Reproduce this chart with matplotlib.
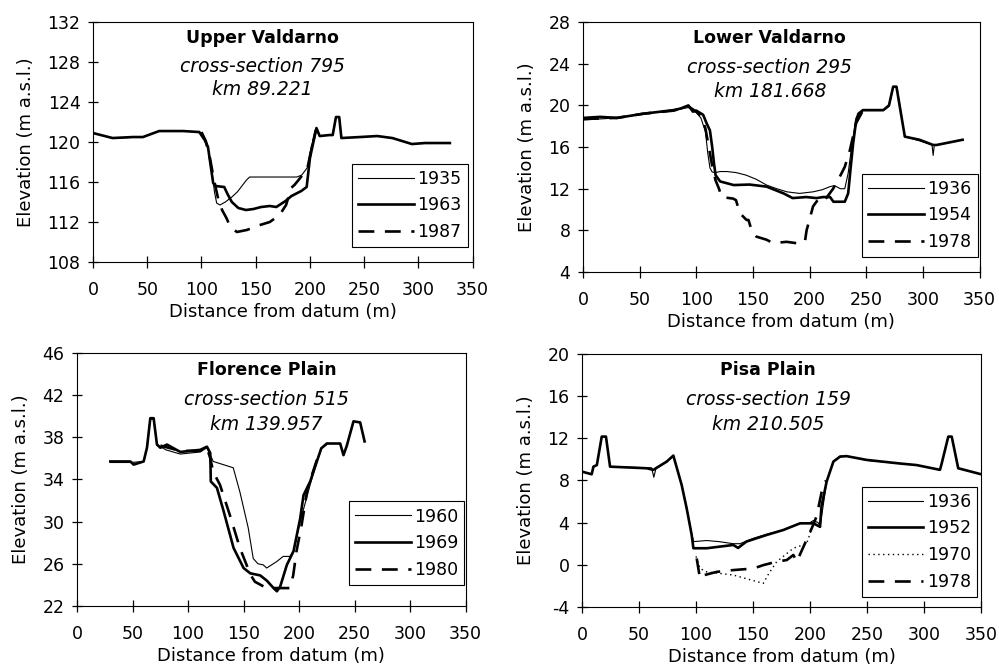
import numpy as np
import matplotlib
matplotlib.use("Agg")
import matplotlib.pyplot as plt

plt.rcParams['font.family'] = ['DejaVu Sans']
plt.rcParams['axes.unicode_minus'] = False

# Upper Valdarno, cross-section 795
uv_x_1963 = [0, 18, 37, 46, 61, 83, 98, 103, 106, 108, 110.8, 113, 121, 124, 128, 134, 141, 148, 155, 163, 169, 177.5,
             183, 192, 197, 200, 206, 209, 218, 221, 224, 227, 229, 246, 262, 276, 285, 294, 306, 329]
uv_y_1963 = [120.9, 120.4, 120.5, 120.5, 121.1, 121.1, 121.0, 120.2, 119.5, 118.0, 115.9, 115.6, 115.5, 114.8, 114.0,
             113.4, 113.2, 113.3, 113.5, 113.6, 113.5, 114.1, 114.6, 115.1, 115.5, 118.4, 121.4, 120.6, 120.7, 120.7,
             122.5, 122.5, 120.4, 120.5, 120.6, 120.4, 120.1, 119.8, 119.9, 119.9]
uv_x_1935 = [20, 46, 61, 83, 98, 103, 106, 109, 112, 114, 117, 122, 128, 133, 138, 141.5, 144.4, 160, 175, 188, 192.5,
             198, 201, 206, 209, 218, 221, 224, 227, 229]
uv_y_1935 = [120.4, 120.5, 121.1, 121.1, 121.0, 120.2, 119.5, 117.5, 115.0, 113.9, 113.7, 114.0, 114.5, 115.0, 115.7,
             116.2, 116.5, 116.5, 116.5, 116.5, 116.7, 117.5, 119.5, 121.3, 120.6, 120.7, 120.7, 122.5, 122.5, 120.4]
uv_x_1987 = [100, 104, 108, 111, 115, 119, 123, 126.6, 132.7, 141.8, 154, 163, 172, 178, 182.6, 185.7, 191, 197.7,
             200.8, 205.4]
uv_y_1987 = [121.0, 120.1, 118.3, 116.5, 114.5, 113.2, 112.4, 111.5, 111.0, 111.2, 111.7, 112.0, 112.7, 113.7, 115.4,
             115.7, 116.4, 117.4, 119.0, 121.2]

# Lower Valdarno, cross-section 295
lv_x_1954 = [0, 15, 30, 53, 80, 86, 93, 97, 100, 106, 109, 112, 114, 115.5, 117, 121, 133, 147, 162, 177, 185, 197, 206,
             212, 218, 221, 231, 234, 236, 238.4, 241, 243, 247, 265, 270, 273.7, 276.6, 284, 297, 309, 312, 335]
lv_y_1954 = [18.8, 18.9, 18.8, 19.2, 19.55, 19.7, 20.0, 19.4, 19.5, 19.1, 18.3, 17.6, 16.0, 14.5, 13.3, 12.7, 12.35,
             12.4, 12.2, 11.55, 11.1, 11.2, 11.1, 11.2, 11.2, 10.75, 10.75, 11.55, 13.8, 16.35, 18.5, 19.2, 19.55,
             19.55, 20.0, 21.8, 21.8, 17.0, 16.7, 16.2, 16.2, 16.7]
lv_x_1936 = [0, 30, 53, 80, 93, 100, 104, 108, 110, 112, 114, 117, 121, 127, 135, 144, 153, 162, 171, 180, 191, 203,
             211, 218, 222, 227, 231, 234, 237, 241, 247, 265, 270, 274, 277, 284, 297, 308, 309, 310, 312, 335]
lv_y_1936 = [18.6, 18.8, 19.2, 19.5, 19.8, 19.3, 18.8, 17.5, 15.5, 14.0, 13.6, 13.55, 13.65, 13.65, 13.55, 13.3, 12.9,
             12.35, 12.0, 11.7, 11.55, 11.7, 11.9, 12.2, 12.3, 12.0, 12.0, 13.5, 16.0, 18.8, 19.5, 19.5, 19.9, 21.8,
             21.8, 17.0, 16.6, 16.2, 15.2, 16.2, 16.2, 16.7]
lv_x_1978 = [0, 30, 53, 80, 93, 100, 104, 108, 111, 114, 117, 120, 122.3, 132.5, 135, 138.4, 144.3, 146, 148.8, 153,
             162, 167.8, 179.6, 188.4, 195.8, 197.3, 203, 209, 214, 220.7, 226.6, 231, 235.5, 241, 247]
lv_y_1978 = [18.7, 18.8, 19.2, 19.5, 19.9, 19.4, 19.0, 17.8, 16.0, 14.2, 12.8, 12.0, 11.2, 11.05, 10.9, 9.65, 9.0, 9.0,
             8.0, 7.4, 7.1, 6.77, 6.9, 6.77, 6.9, 8.0, 10.3, 11.2, 11.0, 12.0, 13.15, 14.1, 15.7, 18.3, 19.5]

# Florence Plain, cross-section 515
fp_x_1969 = [30, 48, 51, 60, 63, 66, 69, 72, 75, 81, 93, 111, 117, 120, 120.5, 126, 132, 141, 150, 156, 165, 171, 177,
             180, 183, 189, 195, 201, 204, 210, 216, 220, 225, 237, 240, 243, 249, 255, 259]
fp_y_1969 = [35.7, 35.7, 35.4, 35.7, 37.0, 39.8, 39.8, 37.3, 37.0, 37.3, 36.6, 36.8, 37.1, 36.5, 33.8, 33.2, 31.0, 27.5,
             25.6, 25.1, 24.9, 24.4, 23.7, 23.4, 23.85, 25.9, 27.2, 30.3, 32.5, 33.8, 35.7, 36.95, 37.4, 37.4, 36.3,
             37.2, 39.5, 39.4, 37.6]
fp_x_1960 = [30, 48, 60, 63, 66, 69, 72, 80, 93, 111, 117, 122.7, 131.7, 140.7, 146.7, 154.2, 158.7, 163, 167.7, 170.8,
             179.7, 185.7, 191.7, 195, 201, 210, 216, 220, 225]
fp_y_1960 = [35.6, 35.6, 35.7, 37.0, 39.7, 39.7, 37.3, 36.8, 36.4, 36.6, 37.0, 35.7, 35.4, 35.1, 32.8, 29.4, 26.5, 26.0,
             25.9, 25.6, 26.2, 26.7, 26.7, 27.2, 30.0, 33.5, 35.7, 36.9, 37.3]
fp_x_1980 = [75, 93, 111, 117, 120, 122.7, 128.7, 137.7, 146.7, 152.7, 156, 160.2, 170.8, 179.7, 191.7, 194.7, 197.7,
             202.3, 207.7, 213.7, 218]
fp_y_1980 = [37.2, 36.7, 36.7, 37.0, 36.0, 34.7, 33.5, 30.6, 27.5, 25.9, 25.0, 24.3, 23.7, 23.7, 23.7, 24.9, 27.2, 29.7,
             33.2, 35.1, 36.5]

# Pisa Plain, cross-section 159
pp_x_1952 = [0, 8.5, 10, 13, 17.3, 21, 24.6, 56.7, 62.6, 74.3, 80.1, 87.4, 91.8, 96.2, 97.7, 109.4, 132.7, 136.9, 144.2,
             162, 176.6, 191.2, 203, 208.8, 210, 214.6, 220.5, 226.3, 232, 249.7, 278.9, 293.6, 314, 315.5, 321.3,
             324.3, 330, 353]
pp_y_1952 = [8.83, 8.58, 9.3, 9.45, 12.15, 12.15, 9.3, 9.15, 9.0, 9.78, 10.35, 7.57, 5.35, 2.83, 1.57, 1.57, 1.88, 1.6,
             2.2, 2.83, 3.3, 3.93, 3.93, 3.6, 5.5, 7.9, 9.78, 10.25, 10.3, 9.94, 9.6, 9.45, 9.0, 9.6, 12.15, 12.15,
             9.15, 8.5]
pp_x_1936 = [0, 8.5, 10, 13, 17.3, 21, 24.6, 56.7, 61, 63, 65, 74.3, 80.1, 87.4, 91.8, 96.2, 98, 109.4, 120, 132.7,
             138.6, 150, 162, 176.6, 191.2, 200, 203, 207, 209, 214.6, 220.5, 226.3, 232, 249.7, 278.9, 293.6, 314,
             315.5, 321.3, 324.3, 330, 353]
pp_y_1936 = [8.8, 8.6, 9.3, 9.45, 12.15, 12.15, 9.3, 9.2, 9.2, 8.3, 9.2, 9.8, 10.3, 7.6, 5.4, 2.9, 2.2, 2.3, 2.2, 2.0,
             2.0, 2.5, 2.9, 3.3, 3.9, 4.0, 4.2, 4.0, 3.7, 7.9, 9.8, 10.3, 10.3, 9.9, 9.6, 9.45, 9.0, 9.6, 12.15, 12.15,
             9.15, 8.5]
pp_x_1970 = [100, 103.5, 109.4, 132.7, 159, 164, 170.8, 185.4, 197, 203]
pp_y_1970 = [0.8, -0.35, -0.67, -0.97, -1.76, -0.8, 0.3, 1.57, 2.0, 3.9]
pp_x_1978 = [100.6, 103.5, 106.4, 118.1, 132.7, 150.3, 159, 170.8, 179.6, 185.4, 188.4, 194.2, 201.5, 205.8, 210.2, 214]
pp_y_1978 = [0.6, -1.3, -1.0, -0.67, -0.5, -0.35, -0.03, 0.3, 0.45, 0.93, 0.3, 1.7, 3.46, 4.6, 6.9, 8.0]

thin = dict(color='black', lw=0.8)
thick = dict(color='black', lw=1.9)
dashed = dict(color='black', lw=1.9, dashes=(6, 4))
dotted = dict(color='black', lw=1.0, dashes=(1, 2.5))

fig = plt.figure(figsize=(9.99, 6.7), dpi=100)


def setup(ax, ylo, yhi, name, section, km, tx, ty):
    ax.set_xlim(0, 350)
    ax.set_ylim(ylo, yhi)
    ax.set_xticks(np.arange(0, 351, 50))
    ax.set_yticks(np.arange(ylo, yhi + 1, 4))
    ax.tick_params(axis='x', direction='inout', length=9, width=0.9, labelsize=12.5, pad=9)
    ax.tick_params(axis='y', direction='inout', length=7, width=0.9, labelsize=12.5, pad=5.5)
    for s in ax.spines.values():
        s.set_linewidth(0.8)
    ax.set_xlabel('Distance from datum (m)', fontsize=13, labelpad=3)
    ax.set_ylabel('Elevation (m a.s.l.)', fontsize=13, labelpad=9)
    ax.text(tx, ty, name, transform=ax.transAxes, ha='center', va='center', fontsize=12.5, fontweight='bold')
    ax.text(tx, ty - 0.118, section, transform=ax.transAxes, ha='center', va='center', fontsize=13.5, style='italic')
    ax.text(tx, ty - 0.215, km, transform=ax.transAxes, ha='center', va='center', fontsize=13.5, style='italic')


def add_legend(ax, anchor):
    leg = ax.legend(loc='lower right', bbox_to_anchor=anchor, fontsize=12.5, handlelength=3.2, handletextpad=0.2,
                    labelspacing=0.5, borderpad=0.35, borderaxespad=0, fancybox=False, framealpha=1,
                    edgecolor='black')
    leg.get_frame().set_linewidth(0.8)


ax1 = fig.add_axes([0.0931, 0.609, 0.380, 0.358])
ax1.plot(uv_x_1935, uv_y_1935, label='1935', **thin)
ax1.plot(uv_x_1963, uv_y_1963, label='1963', **thick)
ax1.plot(uv_x_1987, uv_y_1987, label='1987', **dashed)
setup(ax1, 108, 132, 'Upper Valdarno', 'cross-section 795', 'km 89.221', 0.447, 0.933)
add_legend(ax1, (0.987, 0.062))

ax2 = fig.add_axes([0.5836, 0.594, 0.397, 0.373])
ax2.plot(lv_x_1936, lv_y_1936, label='1936', **thin)
ax2.plot(lv_x_1954, lv_y_1954, label='1954', **thick)
ax2.plot(lv_x_1978, lv_y_1978, label='1978', **dashed)
setup(ax2, 4, 28, 'Lower Valdarno', 'cross-section 295', 'km 181.668', 0.471, 0.936)
add_legend(ax2, (0.995, 0.06))

ax3 = fig.add_axes([0.0771, 0.0955, 0.389, 0.378])
ax3.plot(fp_x_1960, fp_y_1960, label='1960', **thin)
ax3.plot(fp_x_1969, fp_y_1969, label='1969', **thick)
ax3.plot(fp_x_1980, fp_y_1980, label='1980', **dashed)
setup(ax3, 22, 46, 'Florence Plain', 'cross-section 515', 'km 139.957', 0.488, 0.933)
add_legend(ax3, (0.997, 0.083))

ax4 = fig.add_axes([0.5826, 0.094, 0.3994, 0.378])
ax4.plot(pp_x_1936, pp_y_1936, label='1936', **thin)
ax4.plot(pp_x_1952, pp_y_1952, label='1952', **thick)
ax4.plot(pp_x_1970, pp_y_1970, label='1970', **dotted)
ax4.plot(pp_x_1978, pp_y_1978, label='1978', **dashed)
setup(ax4, -4, 20, 'Pisa Plain', 'cross-section 159', 'km 210.505', 0.466, 0.937)
add_legend(ax4, (0.99, 0.04))

fig.savefig('out.png', dpi=100)
